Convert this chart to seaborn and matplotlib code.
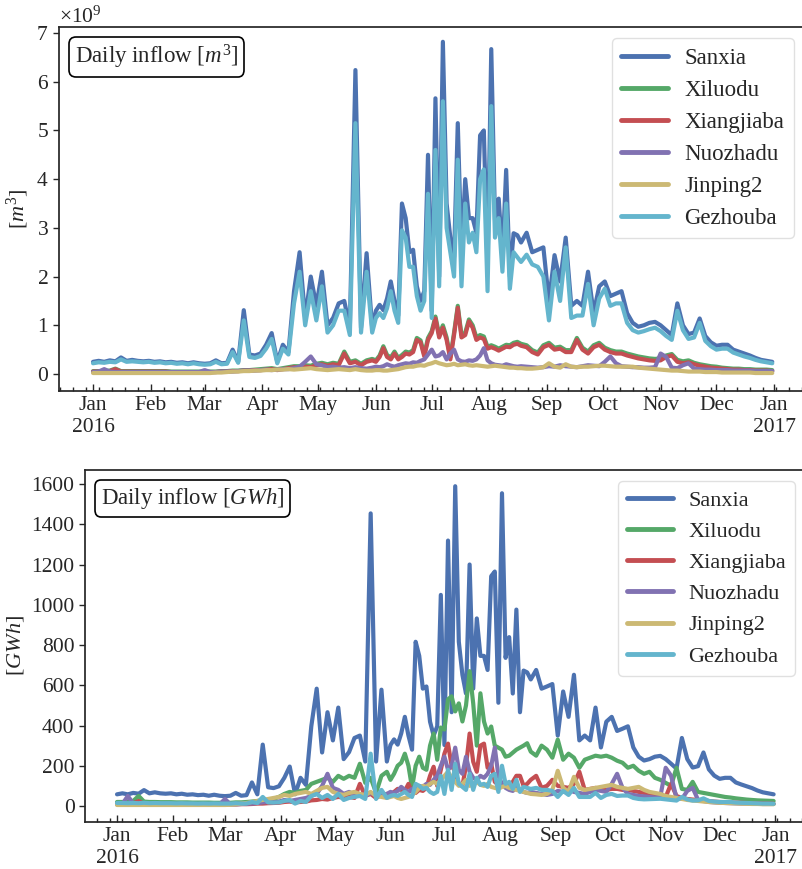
import matplotlib
matplotlib.use("Agg")
import matplotlib.pyplot as plt
import matplotlib.dates as mdates
from matplotlib.offsetbox import AnchoredText
from matplotlib.lines import Line2D
from matplotlib.ticker import ScalarFormatter, FuncFormatter
import seaborn as sns
import pandas as pd
import numpy as np

# ============================================
# DATA
# ============================================

RESERVOIRS = ['Sanxia', 'Xiluodu', 'Xiangjiaba', 'Nuozhadu', 'Jinping2', 'Gezhouba']
COLORS = ['#4C72B0', '#55A868', '#C44E52', '#8172B2', '#CCB974', '#64B5CD']

# sample days (offset from 2016-01-01)
day_offsets = list(range(0, 150, 3)) + list(range(150, 231, 2)) + list(range(233, 366, 3))
dates = pd.Timestamp('2016-01-01') + pd.to_timedelta(day_offsets, unit='D')

# daily inflow, units of 1e9 m3
sanxia_m3 = [
    0.25, 0.27, 0.25, 0.28, 0.26, 0.34, 0.27, 0.29, 0.27, 0.26,
    0.27, 0.25, 0.26, 0.24, 0.25, 0.23, 0.24, 0.22, 0.24, 0.22,
    0.21, 0.22, 0.28, 0.22, 0.23, 0.50, 0.25, 1.31, 0.40, 0.38,
    0.42, 0.60, 0.84, 0.25, 0.60, 0.45, 1.70, 2.50, 1.14, 2.00,
    1.40, 2.10, 1.00, 1.15, 1.45, 1.50, 0.95, 6.24, 0.95, 2.48,
    0.95, 1.30, 1.42, 1.31, 1.55, 1.90, 1.50, 1.20, 3.50, 3.20,
    2.50, 2.55, 1.80, 1.50, 1.70, 4.50, 1.30, 5.66, 2.00, 6.82,
    3.50, 2.80, 2.40, 5.15, 2.50, 4.00, 3.20, 3.20, 2.90, 4.90,
    5.00, 2.20, 6.67, 3.16, 3.60, 2.40, 4.19, 2.00, 2.89, 2.85, 2.70,
    2.90, 2.50, 2.55, 2.60, 1.50, 2.44, 1.90, 2.80, 1.40, 1.50,
    1.40, 2.10, 1.25, 1.80, 1.90, 1.60, 1.65, 1.70, 1.25, 1.05,
    0.97, 1.00, 1.05, 1.07, 1.00, 0.90, 0.80, 1.45, 1.00, 0.82,
    0.85, 1.14, 0.78, 0.65, 0.58, 0.60, 0.60, 0.50, 0.46, 0.42,
    0.38, 0.33, 0.29, 0.27, 0.25]
xiluodu_m3 = [
    0.06, 0.06, 0.06, 0.07, 0.11, 0.06, 0.06, 0.06, 0.06, 0.06,
    0.06, 0.06, 0.06, 0.06, 0.05, 0.05, 0.05, 0.05, 0.05, 0.05,
    0.05, 0.05, 0.05, 0.06, 0.06, 0.07, 0.07, 0.08, 0.08, 0.09,
    0.10, 0.11, 0.12, 0.10, 0.12, 0.14, 0.16, 0.16, 0.18, 0.17,
    0.21, 0.23, 0.20, 0.23, 0.21, 0.46, 0.25, 0.28, 0.21, 0.28,
    0.31, 0.28, 0.38, 0.57, 0.39, 0.34, 0.46, 0.33, 0.39, 0.46,
    0.44, 0.49, 0.74, 0.69, 0.40, 0.74, 0.88, 1.18, 0.80, 1.00,
    0.75, 0.34, 0.85, 1.40, 0.80, 0.85, 1.12, 1.00, 0.75, 0.80,
    0.77, 0.56, 0.59, 0.56, 0.52, 0.56, 0.60, 0.59, 0.64, 0.66, 0.62,
    0.59, 0.49, 0.44, 0.59, 0.64, 0.54, 0.56, 0.49, 0.49, 0.74,
    0.54, 0.46, 0.59, 0.64, 0.54, 0.49, 0.46, 0.46, 0.42, 0.39,
    0.36, 0.34, 0.32, 0.31, 0.32, 0.38, 0.41, 0.29, 0.26, 0.28,
    0.23, 0.20, 0.18, 0.16, 0.15, 0.13, 0.12, 0.11, 0.11, 0.10,
    0.10, 0.09, 0.09, 0.09, 0.08]
xiangjiaba_m3 = [
    0.05, 0.05, 0.05, 0.06, 0.10, 0.05, 0.05, 0.05, 0.05, 0.05,
    0.05, 0.05, 0.05, 0.05, 0.04, 0.04, 0.04, 0.04, 0.04, 0.04,
    0.04, 0.04, 0.04, 0.05, 0.05, 0.06, 0.06, 0.07, 0.07, 0.08,
    0.08, 0.09, 0.10, 0.08, 0.10, 0.12, 0.14, 0.13, 0.15, 0.14,
    0.18, 0.20, 0.17, 0.20, 0.18, 0.42, 0.22, 0.25, 0.18, 0.25,
    0.28, 0.25, 0.35, 0.53, 0.35, 0.30, 0.42, 0.30, 0.35, 0.42,
    0.40, 0.45, 0.70, 0.65, 0.36, 0.70, 0.84, 1.14, 0.75, 0.95,
    0.70, 0.30, 0.80, 1.36, 0.75, 0.80, 1.08, 0.95, 0.70, 0.75,
    0.72, 0.52, 0.55, 0.52, 0.48, 0.52, 0.56, 0.55, 0.60, 0.62, 0.58,
    0.55, 0.45, 0.40, 0.55, 0.60, 0.50, 0.52, 0.45, 0.45, 0.70,
    0.50, 0.42, 0.55, 0.60, 0.50, 0.45, 0.42, 0.42, 0.38, 0.35,
    0.32, 0.30, 0.28, 0.27, 0.28, 0.35, 0.38, 0.25, 0.22, 0.24,
    0.20, 0.17, 0.15, 0.13, 0.12, 0.11, 0.10, 0.09, 0.09, 0.08,
    0.08, 0.07, 0.07, 0.07, 0.06]
nuozhadu_m3 = [
    0.04, 0.05, 0.10, 0.05, 0.04, 0.04, 0.04, 0.04, 0.04, 0.04,
    0.04, 0.04, 0.04, 0.04, 0.04, 0.04, 0.04, 0.04, 0.04, 0.04,
    0.08, 0.04, 0.04, 0.05, 0.05, 0.05, 0.06, 0.07, 0.07, 0.07,
    0.08, 0.09, 0.08, 0.09, 0.10, 0.10, 0.12, 0.15, 0.25, 0.36,
    0.20, 0.18, 0.14, 0.15, 0.13, 0.14, 0.12, 0.14, 0.12, 0.11,
    0.13, 0.15, 0.14, 0.16, 0.20, 0.17, 0.15, 0.18, 0.20, 0.22,
    0.21, 0.24, 0.23, 0.27, 0.30, 0.40, 0.50, 0.36, 0.38, 0.45,
    0.30, 0.42, 0.50, 0.30, 0.26, 0.25, 0.28, 0.27, 0.30, 0.38,
    0.53, 0.28, 0.22, 0.19, 0.18, 0.17, 0.20, 0.18, 0.16, 0.15, 0.16,
    0.15, 0.14, 0.13, 0.14, 0.16, 0.15, 0.18, 0.16, 0.15, 0.14,
    0.16, 0.18, 0.17, 0.16, 0.25, 0.36, 0.22, 0.16, 0.15, 0.14,
    0.14, 0.13, 0.13, 0.14, 0.42, 0.35, 0.13, 0.12, 0.18, 0.22,
    0.11, 0.10, 0.09, 0.09, 0.08, 0.08, 0.08, 0.07, 0.07, 0.07,
    0.07, 0.06, 0.06, 0.06, 0.06]
jinping2_m3 = [
    0.02, 0.02, 0.02, 0.02, 0.02, 0.02, 0.02, 0.02, 0.02, 0.02,
    0.02, 0.02, 0.02, 0.02, 0.02, 0.02, 0.02, 0.02, 0.02, 0.02,
    0.02, 0.02, 0.03, 0.03, 0.04, 0.05, 0.05, 0.06, 0.06, 0.07,
    0.07, 0.08, 0.08, 0.09, 0.09, 0.10, 0.09, 0.10, 0.11, 0.12,
    0.10, 0.09, 0.08, 0.09, 0.10, 0.09, 0.08, 0.10, 0.08, 0.07,
    0.07, 0.08, 0.08, 0.07, 0.07, 0.08, 0.09, 0.10, 0.12, 0.14,
    0.15, 0.15, 0.17, 0.18, 0.17, 0.20, 0.22, 0.25, 0.22, 0.20,
    0.18, 0.19, 0.21, 0.18, 0.19, 0.20, 0.18, 0.17, 0.18, 0.17,
    0.16, 0.15, 0.16, 0.17, 0.16, 0.15, 0.14, 0.13, 0.13, 0.12, 0.12,
    0.11, 0.11, 0.12, 0.14, 0.22, 0.15, 0.13, 0.20, 0.15, 0.14,
    0.15, 0.15, 0.16, 0.17, 0.17, 0.16, 0.15, 0.15, 0.15, 0.15,
    0.13, 0.12, 0.11, 0.10, 0.09, 0.08, 0.07, 0.07, 0.06, 0.05,
    0.05, 0.05, 0.04, 0.04, 0.04, 0.03, 0.03, 0.03, 0.03, 0.03,
    0.03, 0.02, 0.02, 0.02, 0.02]
gezhouba_m3 = [
    0.22, 0.24, 0.23, 0.25, 0.24, 0.30, 0.25, 0.26, 0.25, 0.24,
    0.25, 0.23, 0.24, 0.22, 0.23, 0.21, 0.22, 0.20, 0.22, 0.20,
    0.19, 0.20, 0.25, 0.20, 0.21, 0.45, 0.23, 1.10, 0.35, 0.33,
    0.37, 0.52, 0.72, 0.22, 0.52, 0.40, 1.45, 2.10, 1.00, 1.70,
    1.10, 1.80, 0.85, 1.00, 1.30, 1.30, 0.80, 5.15, 0.85, 2.10,
    0.85, 1.15, 1.25, 1.15, 1.35, 1.70, 1.30, 1.05, 2.95, 2.80,
    2.20, 2.20, 1.60, 1.30, 1.50, 3.70, 1.15, 4.60, 1.80, 5.60,
    3.00, 2.50, 2.00, 4.40, 1.80, 3.50, 2.70, 2.90, 2.50, 4.00,
    4.20, 1.70, 5.50, 2.80, 3.20, 2.10, 3.50, 1.75, 2.50, 2.40, 2.30,
    2.45, 2.25, 2.20, 2.00, 1.10, 2.10, 1.50, 2.60, 1.15, 1.20,
    1.20, 1.85, 1.00, 1.55, 1.75, 1.40, 1.45, 1.45, 1.05, 0.90,
    0.85, 0.88, 0.92, 0.95, 0.88, 0.78, 0.70, 1.30, 0.90, 0.72,
    0.75, 1.05, 0.68, 0.57, 0.50, 0.52, 0.52, 0.44, 0.40, 0.36,
    0.33, 0.29, 0.26, 0.24, 0.22]

# daily inflow, GWh
sanxia_gwh = [
    58, 63, 58, 65, 61, 79, 63, 68, 63, 61,
    63, 58, 61, 56, 58, 54, 56, 51, 56, 51,
    49, 51, 65, 51, 54, 117, 58, 305, 93, 89,
    98, 140, 196, 58, 140, 105, 396, 583, 266, 466,
    326, 489, 233, 268, 338, 350, 221, 1454, 221, 578,
    221, 303, 331, 305, 361, 443, 350, 280, 816, 746,
    583, 594, 419, 350, 396, 1049, 303, 1319, 466, 1589,
    816, 652, 559, 1200, 583, 932, 746, 746, 676, 1142,
    1165, 513, 1554, 736, 839, 559, 976, 466, 673, 664, 629,
    676, 583, 594, 606, 350, 569, 443, 652, 326, 350,
    326, 489, 291, 419, 443, 373, 384, 396, 291, 245,
    226, 233, 245, 249, 233, 210, 186, 338, 233, 191,
    198, 266, 182, 151, 135, 140, 140, 117, 107, 98,
    89, 77, 68, 63, 58]
xiluodu_gwh = [
    20, 20, 22, 25, 50, 22, 20, 20, 19, 19,
    19, 18, 18, 18, 17, 17, 17, 17, 16, 16,
    16, 16, 18, 18, 20, 22, 25, 28, 30, 35,
    45, 60, 70, 65, 75, 80, 110, 120, 130, 140,
    120, 150, 135, 150, 140, 210, 115, 140, 65, 150,
    170, 130, 160, 200, 215, 260, 200, 90, 200, 245,
    190, 180, 300, 360, 230, 390, 380, 530, 545, 470,
    510, 420, 500, 670, 510, 300, 560, 420, 360, 395,
    300, 290, 280, 245, 250, 265, 280, 290, 300, 312, 270,
    250, 300, 280, 240, 330, 230, 260, 240, 190, 230,
    240, 250, 245, 250, 240, 225, 215, 190, 200, 175,
    160, 170, 140, 130, 115, 100, 190, 85, 80, 120,
    70, 65, 60, 55, 50, 45, 42, 38, 35, 32,
    30, 28, 27, 26, 25]
xiangjiaba_gwh = [
    10, 10, 10, 12, 25, 10, 9, 9, 9, 9,
    9, 9, 9, 9, 8, 8, 8, 8, 8, 8,
    8, 8, 8, 9, 9, 10, 12, 12, 14, 15,
    16, 20, 22, 18, 20, 22, 28, 30, 35, 32,
    40, 45, 42, 45, 40, 110, 50, 60, 40, 55,
    60, 55, 70, 85, 80, 75, 110, 70, 65, 80,
    75, 90, 150, 195, 100, 180, 260, 310, 200, 170,
    110, 100, 200, 360, 220, 170, 300, 310, 190, 210,
    120, 105, 100, 110, 100, 120, 150, 150, 100, 110, 130,
    150, 90, 100, 130, 100, 95, 90, 110, 170, 80,
    85, 90, 85, 80, 85, 85, 80, 80, 75, 70,
    65, 60, 55, 50, 45, 110, 50, 40, 35, 32,
    30, 28, 25, 22, 20, 19, 18, 17, 16, 15,
    14, 13, 12, 12, 11]
nuozhadu_gwh = [
    8, 10, 50, 12, 8, 7, 7, 7, 7, 7,
    7, 7, 7, 7, 7, 7, 7, 7, 7, 7,
    35, 8, 8, 10, 12, 12, 15, 18, 20, 18,
    22, 30, 25, 30, 35, 40, 50, 60, 100, 160,
    90, 80, 60, 70, 55, 60, 50, 65, 55, 50,
    60, 70, 65, 75, 95, 80, 70, 85, 90, 100,
    95, 110, 105, 130, 150, 200, 245, 180, 200, 290,
    180, 160, 245, 170, 140, 130, 150, 140, 160, 200,
    290, 150, 110, 90, 80, 75, 90, 80, 70, 65, 70,
    65, 60, 55, 60, 75, 70, 80, 70, 65, 60,
    70, 80, 75, 70, 110, 160, 90, 60, 55, 50,
    48, 45, 42, 45, 190, 150, 40, 35, 75, 90,
    30, 25, 20, 18, 16, 15, 14, 13, 12, 12,
    11, 11, 10, 10, 10]
jinping2_gwh = [
    5, 5, 5, 5, 5, 5, 5, 5, 5, 5,
    5, 5, 5, 5, 5, 5, 5, 5, 5, 5,
    5, 6, 8, 12, 15, 20, 25, 30, 35, 40,
    45, 55, 50, 60, 65, 70, 60, 75, 90, 95,
    70, 60, 55, 65, 70, 60, 55, 70, 50, 45,
    40, 45, 50, 40, 35, 40, 45, 55, 70, 90,
    100, 95, 110, 120, 110, 130, 150, 170, 140, 120,
    100, 110, 130, 100, 110, 120, 105, 100, 110, 95,
    90, 85, 95, 100, 90, 85, 80, 75, 70, 65, 60,
    58, 55, 60, 80, 175, 90, 70, 145, 90, 80,
    85, 90, 95, 100, 105, 95, 90, 85, 90, 95,
    80, 70, 65, 60, 50, 45, 40, 35, 30, 27,
    25, 22, 20, 18, 16, 15, 14, 13, 12, 11,
    10, 10, 9, 9, 9]
gezhouba_gwh = [
    15, 15, 14, 15, 14, 16, 14, 15, 14, 14,
    14, 13, 14, 13, 13, 12, 13, 12, 13, 12,
    12, 12, 14, 12, 12, 20, 15, 45, 18, 17,
    18, 25, 30, 12, 25, 20, 50, 60, 40, 55,
    35, 60, 30, 40, 45, 50, 35, 260, 35, 80,
    40, 50, 55, 50, 60, 70, 55, 45, 110, 100,
    85, 90, 70, 60, 70, 150, 60, 180, 80, 210,
    110, 95, 80, 160, 80, 140, 105, 110, 95, 150,
    160, 70, 200, 110, 120, 85, 130, 70, 95, 90, 85,
    90, 80, 80, 75, 45, 75, 55, 90, 45, 45,
    45, 65, 40, 55, 60, 50, 52, 52, 40, 35,
    33, 34, 35, 36, 33, 30, 27, 45, 33, 27,
    28, 38, 25, 22, 20, 20, 20, 17, 16, 15,
    14, 13, 12, 12, 11]

# ============================================
# PLOT SETTINGS
# ============================================

TICK_SIZE = 15.5
LINE_WIDTH = 3.0
START = pd.Timestamp('2016-01-01')


def to_long(series, scale=1.0):
    frames = []
    for name, values in zip(RESERVOIRS, series):
        frames.append(pd.DataFrame({
            'date': dates,
            'inflow': np.asarray(values, dtype=float) * scale,
            'reservoir': name,
        }))
    return pd.concat(frames, ignore_index=True)


m3_df = to_long([sanxia_m3, xiluodu_m3, xiangjiaba_m3, nuozhadu_m3, jinping2_m3, gezhouba_m3], 1e9)
gwh_df = to_long([sanxia_gwh, xiluodu_gwh, xiangjiaba_gwh, nuozhadu_gwh, jinping2_gwh, gezhouba_gwh])

sns.set_style('ticks')
plt.rcParams.update({
    'font.family': ['Liberation Serif', 'DejaVu Serif'],
    'mathtext.fontset': 'custom',
    'mathtext.rm': 'Liberation Serif',
    'mathtext.it': 'Liberation Serif:italic',
    'mathtext.bf': 'Liberation Serif:bold',
    'font.size': TICK_SIZE,
    'axes.linewidth': 1.25,
    'axes.edgecolor': '.15',
})

palette = dict(zip(RESERVOIRS, COLORS))


def month_label(x, pos):
    d = mdates.num2date(x)
    return d.strftime('%b\n%Y') if d.month == 1 else d.strftime('%b')


def draw_panel(ax, df, title, ylabel, left_days, right_days, box_size, legend_size):
    sns.lineplot(data=df, x='date', y='inflow', hue='reservoir', hue_order=RESERVOIRS,
                 palette=palette, linewidth=LINE_WIDTH, errorbar=None, legend=False, ax=ax)
    ax.set_xlim(START - pd.Timedelta(days=left_days), START + pd.Timedelta(days=right_days))
    ax.xaxis.set_major_locator(mdates.MonthLocator())
    ax.xaxis.set_minor_locator(mdates.WeekdayLocator(byweekday=mdates.MO))
    ax.xaxis.set_major_formatter(FuncFormatter(month_label))
    ax.tick_params(axis='x', which='major', direction='in', length=5, width=1, labelsize=TICK_SIZE)
    ax.tick_params(axis='x', which='minor', direction='in', length=3, width=1)
    ax.tick_params(axis='y', direction='out', length=4, width=1, labelsize=TICK_SIZE)
    ax.spines['right'].set_visible(False)
    ax.set_xlabel('')
    ax.set_ylabel(ylabel, fontsize=TICK_SIZE + 0.5)

    # title box
    at = AnchoredText(title, loc='upper left', prop=dict(size=box_size),
                      frameon=True, pad=0.27, borderpad=0.42)
    at.patch.set_boxstyle('round,pad=0.,rounding_size=0.3')
    at.patch.set_edgecolor('black')
    at.patch.set_linewidth(1.2)
    ax.add_artist(at)

    handles = [Line2D([], [], color=c, lw=3.5) for c in COLORS]
    leg = ax.legend(handles, RESERVOIRS, loc='upper right', fontsize=legend_size,
                    frameon=True, fancybox=True, handlelength=2.05, handletextpad=0.7,
                    labelspacing=0.48, borderaxespad=0.5, borderpad=0.4)
    leg.get_frame().set_edgecolor('0.85')
    leg.get_frame().set_linewidth(1.0)


fig = plt.figure(figsize=(8.02, 8.69), dpi=100)
ax1 = fig.add_axes([59 / 802, 1 - 391 / 869, 746 / 802, 364 / 869])
ax2 = fig.add_axes([85 / 802, 1 - 822 / 869, 721 / 802, 352 / 869])

# top panel: m3
draw_panel(ax1, m3_df, 'Daily inflow [$m^3$]', '[$m^3$]', 18.3, 382.6, 16.5, 16.5)
ax1.set_ylim(-0.349e9, 7.124e9)
ax1.set_yticks(np.arange(0, 8) * 1e9)
ax1.yaxis.set_major_formatter(ScalarFormatter(useMathText=True))
ax1.yaxis.get_offset_text().set_fontsize(TICK_SIZE)

# bottom panel: GWh
draw_panel(ax2, gwh_df, 'Daily inflow [$GWh$]', '[$GWh$]', 17.8, 383.0, 16.4, 16.0)
ax2.set_ylim(-79.5, 1669.6)
ax2.set_yticks(np.arange(0, 1601, 200))

fig.savefig('out.png', dpi=100)
